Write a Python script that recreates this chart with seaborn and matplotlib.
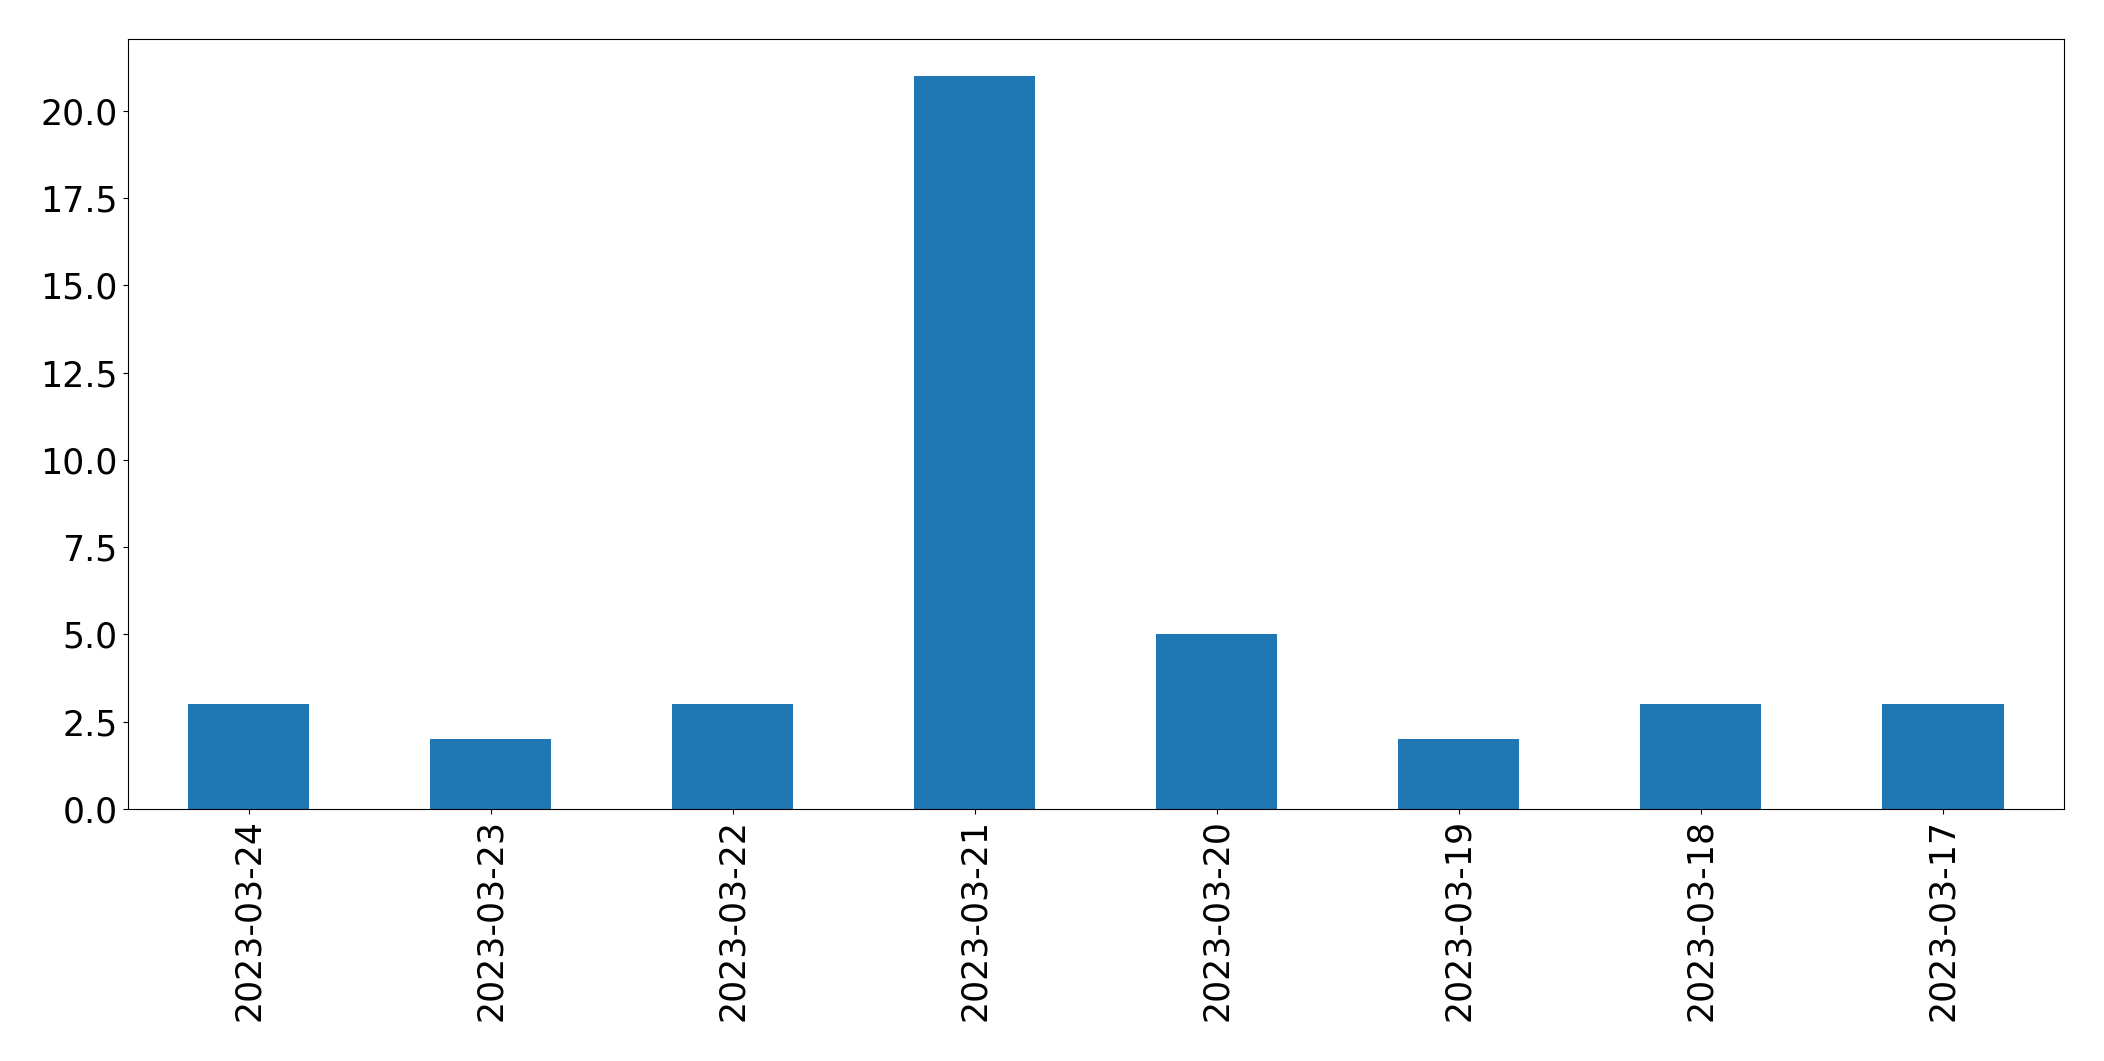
import matplotlib
matplotlib.use("Agg")
import pandas as pd
import seaborn as sns
import matplotlib.pyplot as plt

dates = ["2023-03-24", "2023-03-23", "2023-03-22", "2023-03-21",
         "2023-03-20", "2023-03-19", "2023-03-18", "2023-03-17"]
counts = [3, 2, 3, 21, 5, 2, 3, 3]

df = pd.DataFrame({"date": dates, "count": counts})

fig = plt.figure(figsize=(21.04, 10.61), dpi=100)
ax = fig.add_axes([0.0606, 0.2375, 0.9204, 0.7255])
sns.barplot(data=df, x="date", y="count", order=dates, color="#1f77b4",
            saturation=1, width=0.5, ax=ax)
ax.set_xlim(-0.5, len(dates) - 0.5)
ax.set_ylim(0, 22.05)
ax.set_xlabel("")
ax.set_ylabel("")
ax.tick_params(axis="both", labelsize=25)
plt.setp(ax.get_xticklabels(), rotation=90)
ax.yaxis.set_major_formatter(matplotlib.ticker.FormatStrFormatter("%.1f"))
fig.savefig("out.png", dpi=100)
